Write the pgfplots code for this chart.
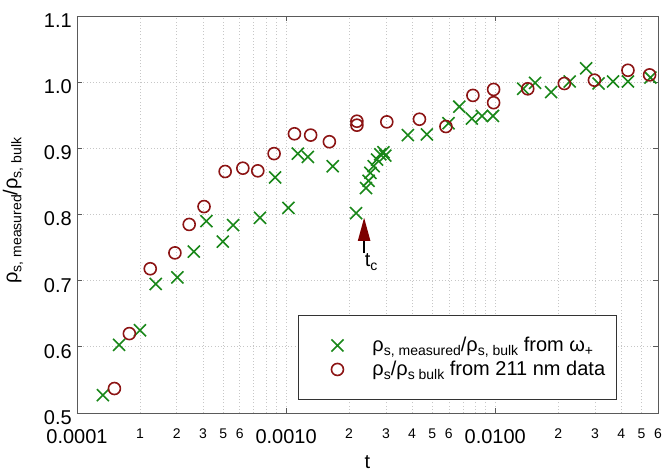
\documentclass[border=0pt]{standalone}
\usepackage{fontspec}
\setmainfont{Liberation Sans}
\usepackage{pgfplots}
\pgfplotsset{compat=1.18}

\definecolor{xgreen}{RGB}{25,135,25}
\definecolor{odred}{RGB}{140,20,20}
\definecolor{arrowred}{RGB}{125,0,0}
\definecolor{axisgray}{RGB}{90,90,90}

\newcommand{\bigfont}{\fontsize{20}{24}\selectfont}
\newcommand{\smallfont}{\fontsize{14}{16}\selectfont}
% subscript at a fixed size, independent of math size tables
\newcommand{\sub}[1]{\raisebox{-4pt}{\fontsize{14}{14}\selectfont #1}}

% single marker with generous padding in the legend
\pgfplotsset{padmark/.style={legend image code/.code={
    \path[draw=none, fill=none] (-39pt,-12pt) rectangle (35pt,12pt);
    \draw[##1, mark repeat=1] plot coordinates {(0pt,0pt)};}}}

% superfluid fraction from the omega_+ mode
\pgfplotstableread{
t        r
1.33e-4  0.527
1.59e-4  0.603
2.00e-4  0.625
2.38e-4  0.695
3.02e-4  0.705
3.62e-4  0.744
4.16e-4  0.790
4.98e-4  0.759
5.58e-4  0.784
7.50e-4  0.795
8.86e-4  0.856
1.026e-3 0.810
1.137e-3 0.892
1.27e-3  0.887
1.67e-3  0.873
2.16e-3  0.802
2.41e-3  0.840
2.48e-3  0.851
2.53e-3  0.863
2.62e-3  0.873
2.72e-3  0.883
2.82e-3  0.891
2.92e-3  0.894
2.98e-3  0.889
3.82e-3  0.920
4.71e-3  0.921
5.98e-3  0.938
6.73e-3  0.963
7.73e-3  0.945
8.64e-3  0.949
9.75e-3  0.949
1.36e-2  0.990
1.55e-2  0.999
1.85e-2  0.985
2.27e-2  1.001
2.72e-2  1.021
3.12e-2  0.998
3.66e-2  1.001
4.31e-2  1.001
5.52e-2  1.007
}\omegadata

% superfluid fraction from the 211 nm data
\pgfplotstableread{
t        r
1.51e-4  0.537
1.78e-4  0.620
2.24e-4  0.718
2.94e-4  0.742
3.44e-4  0.785
4.05e-4  0.812
5.11e-4  0.865
6.21e-4  0.870
7.32e-4  0.866
8.76e-4  0.892
1.096e-3 0.922
1.31e-3  0.920
1.61e-3  0.910
2.18e-3  0.941
2.18e-3  0.935
3.03e-3  0.940
4.34e-3  0.944
5.81e-3  0.933
7.82e-3  0.980
9.82e-3  0.989
9.82e-3  0.969
1.43e-2  0.990
2.14e-2  0.998
2.98e-2  1.003
4.31e-2  1.018
5.47e-2  1.011
}\nmdata

\begin{document}
\begin{tikzpicture}
\useasboundingbox (-77pt,-59pt) rectangle (587pt,413pt);
\begin{axis}[
  scale only axis, width=581pt, height=397pt,
  xmode=log, xmin=1e-4, xmax=0.06, ymin=0.5, ymax=1.1,
  xtick={1e-4,1e-3,1e-2},
  xticklabels={0.0001,0.0010,0.0100},
  minor xtick={2e-4,3e-4,4e-4,5e-4,6e-4,7e-4,8e-4,9e-4,
               2e-3,3e-3,4e-3,5e-3,6e-3,7e-3,8e-3,9e-3,
               2e-2,3e-2,4e-2,5e-2},
  extra x ticks={2e-4,3e-4,4e-4,5e-4,6e-4,
                 2e-3,3e-3,4e-3,5e-3,6e-3,
                 2e-2,3e-2,4e-2,5e-2,6e-2},
  extra x tick labels={1,2,3,5,6,2,3,4,5,6,2,3,4,5,6},
  extra x tick style={major tick length=0pt, grid=none,
    tick label style={font=\smallfont}},
  ytick={0.5,0.6,0.7,0.8,0.9,1.0,1.1},
  yticklabels={0.5,0.6,0.7,0.8,0.9,1.0,1.1},
  xmajorgrids, xminorgrids, ymajorgrids,
  grid style={dash pattern=on 1pt off 2.2pt, black!22, line width=0.7pt},
  minor grid style={dash pattern=on 1pt off 2.2pt, black!22, line width=0.7pt},
  axis line style={axisgray, line width=0.9pt},
  major tick length=5pt, minor tick length=0pt,
  every tick/.style={axisgray, line width=0.9pt},
  tick label style={font=\bigfont, inner sep=0pt},
  xticklabel style={anchor=north, yshift=-16pt},
  yticklabel style={anchor=east, xshift=-5pt, yshift=-4.5pt},
  xlabel={t},
  every axis x label/.style={at={(axis description cs:0.5,0)},
    anchor=north, yshift=-42pt, inner sep=0pt, font=\bigfont},
  ylabel={ρ\sub{s, measured}/ρ\sub{s, bulk}},
  every axis y label/.style={at={(axis description cs:-0.110,0.51)},
    rotate=90, anchor=center, font=\bigfont},
  legend style={at={(0.3804,0.033)}, anchor=south west,
    draw=black!80, line width=0.9pt, fill=white,
    inner xsep=0pt, inner ysep=18pt, row sep=0pt,
    nodes={inner sep=0pt, anchor=west}, font=\bigfont},
  legend cell align=left,
]
\addplot[only marks, mark=x, mark size=8.5pt, xgreen, line width=1.6pt, padmark]
  table[x=t, y=r] {\omegadata};
\addlegendentry{ρ\sub{s, measured}/ρ\sub{s, bulk} from ω\sub{+}\hspace*{23pt}}
\addplot[only marks, mark=o, mark size=6pt, odred, line width=1.6pt, padmark]
  table[x=t, y=r] {\nmdata};
\addlegendentry{ρ\sub{s}/ρ\sub{s bulk} from 211 nm data}

% critical point marker
\draw[black, line width=1.3pt] (axis cs:2.36e-3,0.742) -- (axis cs:2.36e-3,0.762);
\fill[arrowred] (axis cs:2.36e-3,0.795) -- ++(-6.3pt,-23pt) -- ++(12.6pt,0pt) -- cycle;
\node[anchor=north, inner sep=0pt, font=\bigfont] at ([xshift=7pt]axis cs:2.36e-3,0.742) {t\sub{c}};
\end{axis}
\end{tikzpicture}
\end{document}
